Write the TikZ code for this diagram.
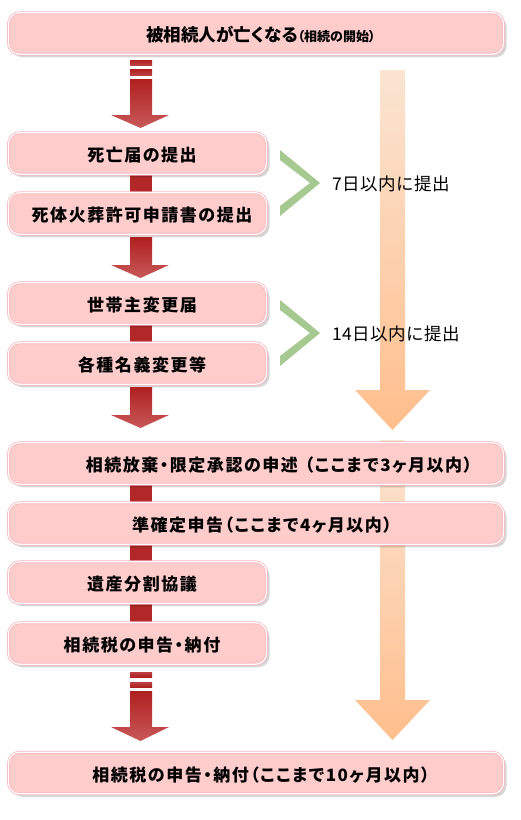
\documentclass[tikz,border=0pt]{standalone}
\usepackage{fontspec}
\newfontfamily\jp[LetterSpace=9,CharacterWidth=AlternateProportional]{Noto Sans CJK JP}
\newfontfamily\jpplain[CharacterWidth=AlternateProportional]{Noto Sans CJK JP}
\newfontfamily\jpann[LetterSpace=3]{Noto Sans CJK JP}
\usetikzlibrary{shadows,backgrounds,calc}
\definecolor{boxfill}{RGB}{255,204,204}
\definecolor{boxborder}{RGB}{250,182,188}
\definecolor{redtop}{RGB}{176,32,32}
\definecolor{redbot}{RGB}{200,88,88}
\definecolor{redconn}{RGB}{178,40,40}
\definecolor{orgtop}{RGB}{250,228,210}
\definecolor{orgbot}{RGB}{255,190,140}
\definecolor{chev}{RGB}{166,200,145}
\newcommand\redarrowshape[3]{%
  \shade[top color=redtop, bottom color=redbot]
    (130,#1) -- (152,#1) -- (152,#2) -- (169,#2) -- (140.5,#3) -- (111,#2) -- (130,#2) -- cycle;}
\newcommand\orgarrowshape[3]{%
  \shade[top color=orgtop, bottom color=orgbot]
    (380,#1) -- (405,#1) -- (405,#2) -- (430,#2) -- (392.5,#3) -- (355,#2) -- (380,#2) -- cycle;}
\newcommand\chevronshape[1]{%
  \fill[chev] (280,150+#1) -- (320,183+#1) -- (280,216+#1) -- (280,206+#1) -- (310,183+#1) -- (280,160+#1) -- cycle;}
\begin{document}
\begin{tikzpicture}[x=1pt,y=-1pt,
  box/.style={draw=boxborder, line width=0.8pt, double=white, double distance=1.2pt,
    fill=boxfill, rounded corners=11pt, inner sep=0pt, minimum height=41.5pt,
    drop shadow={shadow xshift=3pt, shadow yshift=-3pt, fill=black, opacity=0.16}},
  narrowbox/.style={box, minimum width=258pt},
  widebox/.style={box, minimum width=495pt},
  lbl/.style={font=\jp\bfseries\fontsize{17}{19}\selectfont, text=black, inner sep=0pt},
  ann/.style={font=\jpann\fontsize{17.5}{19}\selectfont, text=black, inner sep=0pt, anchor=west},
  conn/.style={draw=redconn, line width=22pt}]
\useasboundingbox (0,0) rectangle (520,820);
\coordinate (ax) at (141,0);

% boxes
\node[widebox]   (b1)  at (256,33.5)  {};
\node[narrowbox] (b2)  at (137.5,153.5) {};
\node[narrowbox] (b3)  at (137.5,213.5) {};
\node[narrowbox] (b4)  at (137.5,303.5) {};
\node[narrowbox] (b5)  at (137.5,363.5) {};
\node[widebox]   (b6)  at (256,463.5) {};
\node[widebox]   (b7)  at (256,523.5) {};
\node[narrowbox] (b8)  at (137.5,582.5) {};
\node[narrowbox] (b9)  at (137.5,643.5) {};
\node[widebox]   (b10) at (256,773) {};

% texts
\node[inner sep=0pt] (t1) at (261,35) {{\jpplain\bfseries\fontsize{17.5}{19}\selectfont 被相続人が亡くなる}{\jpplain\bfseries\fontsize{13}{15}\selectfont （相続の開始）}};
\node[lbl] (t2) at (142,155) {死亡届の提出};
\node[lbl] (t3) at (142,215) {死体火葬許可申請書の提出};
\node[lbl] (t4) at (142,305) {世帯主変更届};
\node[lbl] (t5) at (142,365) {各種名義変更等};
\node[lbl] (t6) at (279,465) {相続放棄・限定承認の申述\hspace{7pt}（ここまで3ヶ月以内）};
\node[lbl] (t7) at (262,525) {準確定申告（ここまで4ヶ月以内）};
\node[lbl] (t8) at (142,584) {遺産分割協議};
\node[lbl] (t9) at (142,645) {相続税の申告・納付};
\node[lbl] (t10) at (261,775) {相続税の申告・納付（ここまで10ヶ月以内）};

% annotations
\node[ann] (n1) at (332,184) {7日以内に提出};
\node[ann] (n2) at (332,334) {14日以内に提出};

\begin{pgfonlayer}{background}
  \orgarrowshape{70}{390}{430}
  \orgarrowshape{440}{700}{740}
  \draw[conn] (b2.south -| ax) -- (b3.north -| ax);
  \draw[conn] (b4.south -| ax) -- (b5.north -| ax);
  \draw[conn] (b6.south -| ax) -- (b7.north -| ax);
  \draw[conn] (b7.south -| ax) -- (b8.north -| ax);
  \draw[conn] (b8.south -| ax) -- (b9.north -| ax);
\end{pgfonlayer}

% chevrons
\chevronshape{0}
\chevronshape{150}

% red arrows
\shade[top color=redtop, bottom color=redtop!85!white] (130,60) rectangle (152,65);
\shade[top color=redtop, bottom color=redtop!85!white] (130,69) rectangle (152,75);
\redarrowshape{79}{115}{128}
\redarrowshape{237}{265}{278}
\redarrowshape{387}{415}{428}
\shade[top color=redtop!85!white, bottom color=redtop] (130,672) rectangle (152,677);
\shade[top color=redtop!85!white, bottom color=redtop] (130,682) rectangle (152,687);
\redarrowshape{691}{727}{741}
\end{tikzpicture}
\end{document}
